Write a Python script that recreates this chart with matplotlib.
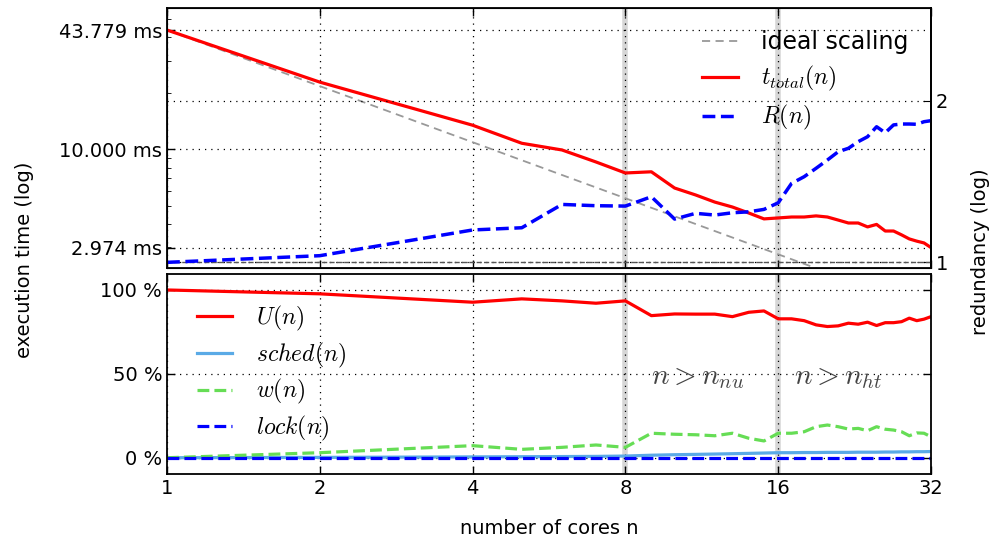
import numpy as np
import matplotlib
matplotlib.use("Agg")
import matplotlib.pyplot as plt
from matplotlib.ticker import FixedLocator, FixedFormatter, NullLocator, LogLocator

plt.rcParams['mathtext.fontset'] = 'cm'
plt.rcParams['font.family'] = 'DejaVu Sans'
plt.rcParams['font.size'] = 14

# data
cores = [1, 2, 4, 5, 6, 7, 8, 9, 10, 11, 12, 13, 14, 15, 16, 17, 18, 19, 20,
         21, 22, 23, 24, 25, 26, 27, 28, 29, 30, 31, 32]
t_total = [43.779, 23.0, 13.5, 10.8, 9.94, 8.57, 7.48, 7.59, 6.21, 5.70, 5.22,
           4.91, 4.56, 4.24, 4.29, 4.34, 4.34, 4.40, 4.34, 4.18, 4.03, 4.03,
           3.84, 3.96, 3.65, 3.65, 3.48, 3.31, 3.22, 3.15, 2.974]
redundancy = [1.0, 1.029, 1.149, 1.160, 1.282, 1.275, 1.273, 1.325, 1.204, 1.234,
              1.225, 1.237, 1.242, 1.255, 1.291, 1.403, 1.444, 1.497, 1.551, 1.607,
              1.631, 1.678, 1.714, 1.789, 1.743, 1.803, 1.810, 1.810, 1.808, 1.828,
              1.836]
util = [100, 97.7, 92.7, 94.7, 93.5, 92.1, 93.5, 84.7, 85.7, 85.6, 85.6, 84.1,
        86.7, 87.5, 82.8, 82.8, 81.7, 79.2, 78.2, 78.6, 80.2, 79.6, 80.8, 78.8,
        80.5, 80.5, 81.1, 83.2, 81.7, 82.6, 84.1]
sched = [0.0, 0.2, 0.5, 0.6, 0.7, 0.8, 1.0, 1.5, 1.8, 2.0, 2.2, 2.4, 2.6, 2.8,
         3.0, 3.0, 3.1, 3.1, 3.2, 3.2, 3.2, 3.3, 3.3, 3.3, 3.4, 3.4, 3.5, 3.5,
         3.6, 3.6, 3.7]
wait = [0.0, 3.0, 7.2, 5.0, 6.2, 7.6, 6.2, 14.6, 14.0, 13.7, 13.1, 14.6, 11.6,
        10.0, 14.6, 14.6, 15.5, 18.5, 19.5, 18.5, 17.1, 17.5, 16.1, 18.5, 17.0,
        16.5, 15.5, 13.1, 14.8, 14.6, 12.5]
lock = [0.0, 0.0, 0.0, 0.0, 0.0, 0.0, 0.0, 0.0, 0.0, 0.0, 0.0, 0.0, 0.0, 0.0,
        0.0, 0.0, 0.0, 0.0, 0.0, 0.0, 0.0, 0.0, 0.0, 0.0, 0.0, 0.0, 0.0, 0.0,
        0.0, 0.0, 0.0]
xticks = [1, 2, 4, 8, 16, 32]
marks = [8, 16]

ideal = [t_total[0] / n for n in cores]

fig = plt.figure(figsize=(10, 5.37), dpi=100)
ax1 = fig.add_axes([0.167, 0.5009, 0.764, 0.4842])
ax2 = fig.add_axes([0.167, 0.1173, 0.764, 0.3724], sharex=ax1)

grid_kw = dict(color='k', linestyle=(0, (1, 4)), linewidth=0.9)

for ax in (ax1, ax2):
    ax.set_xscale('log', base=2)
    for m in marks:
        ax.axvline(m, color='#d6d6d6', lw=4, zorder=0.5)
    ax.grid(True, **grid_kw)
    ax.tick_params(direction='in', top=True, length=6, width=1)
    ax.tick_params(which='minor', direction='in', length=3)
    for s in ax.spines.values():
        s.set_linewidth(1.3)

# top panel: execution time
ax1.plot(cores, ideal, color='#999999', lw=1.3, dashes=(4.5, 3), label='ideal scaling')
ax1.plot(cores, t_total, color='r', lw=2.3, label=r'$t_{total}(n)$')
ax1.set_yscale('log')
ax1.set_ylim(2.31, 57.5)
ax1.yaxis.set_major_locator(FixedLocator([min(t_total), 10.0, max(t_total)]))
ax1.yaxis.set_major_formatter(FixedFormatter(['%.3f ms' % v for v in [min(t_total), 10.0, max(t_total)]]))
ax1.yaxis.set_minor_locator(LogLocator(base=10, subs=np.arange(2, 10)))
ax1.yaxis.set_minor_formatter(FixedFormatter([]))
ax1.tick_params(labelbottom=False, right=False, which='both')
ax1.set_xlim(1, 32)

axr = ax1.twinx()
axr.set_yscale('log')
axr.axhline(1.0, color='#555555', lw=1, ls='--')
axr.plot(cores, redundancy, color='b', lw=2.5, ls='--', label=r'$R(n)$')
axr.set_ylim(0.976, 2.977)
axr.yaxis.set_major_locator(FixedLocator([1, 2]))
axr.yaxis.set_major_formatter(FixedFormatter(['1', '2']))
axr.yaxis.set_minor_locator(NullLocator())
axr.grid(True, axis='y', **grid_kw)
axr.tick_params(direction='in', length=6)
axr.spines['right'].set_linewidth(1.3)

h1, l1 = ax1.get_legend_handles_labels()
h2, l2 = axr.get_legend_handles_labels()
axr.legend(h1 + h2, l1 + l2, loc='upper right', frameon=False, fontsize=17,
           handlelength=1.5, handletextpad=1.0, labelspacing=0.42,
           borderaxespad=0.55)

# bottom panel: utilisation breakdown
ax2.plot(cores, util, color='r', lw=2.3, label=r'$U(n)$')
ax2.plot(cores, sched, color='#5aaae6', lw=2.3, label=r'$sched(n)$')
ax2.plot(cores, wait, color='#66dd55', lw=2.3, ls='--', label=r'$w(n)$')
ax2.plot(cores, lock, color='b', lw=2.3, ls='--', label=r'$lock(n)$')
ax2.set_ylim(-9.7, 109.5)
ax2.set_yticks([0, 50, 100])
ax2.set_yticklabels(['0 %', '50 %', '100 %'])
ax2.tick_params(right=True)
ax2.set_xticks(xticks)
ax2.set_xticklabels([str(v) for v in xticks])
ax2.xaxis.set_minor_locator(NullLocator())
ax1.xaxis.set_minor_locator(NullLocator())
ax2.set_xlim(1, 32)
ax2.set_xlabel('number of cores n', labelpad=15)
ax2.legend(loc='upper left', frameon=False, fontsize=17, handlelength=1.5,
           handletextpad=1.0, labelspacing=0.33, borderaxespad=0.85)

ax2.text(9.0, 48, r'$n > n_{nu}$', fontsize=21, color='#444444', va='center', ha='left')
ax2.text(17.2, 48, r'$n > n_{ht}$', fontsize=21, color='#444444', va='center', ha='left')

fig.text(0.025, 1 - 260 / 537, 'execution time (log)', rotation=90, va='center', ha='center')
fig.text(0.98, 1 - 252 / 537, 'redundancy (log)', rotation=90, va='center', ha='center')

fig.savefig('out.png', dpi=100)
